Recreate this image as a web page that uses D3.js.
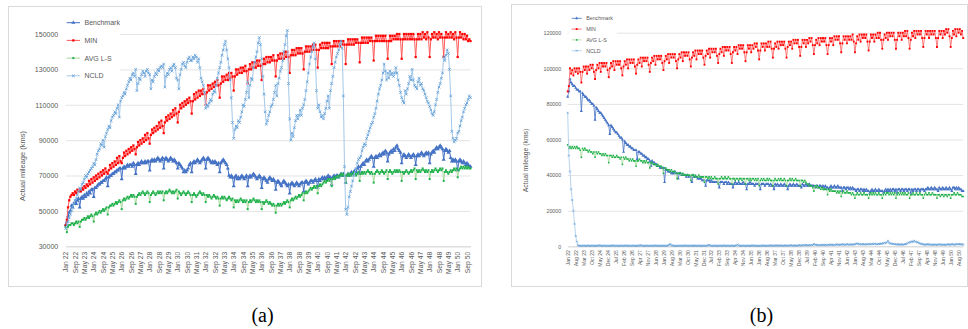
<!DOCTYPE html>
<html><head><meta charset="utf-8">
<script src="https://cdn.jsdelivr.net/npm/d3@7"></script>
<style>body{margin:0;background:#fff}svg{display:block}</style>
</head><body>
<svg id="c" width="968" height="329"></svg>
<script>
// ---------- categories & tick labels ----------
const monthNames = ["Jan","Feb","Mar","Apr","May","Jun","Jul","Aug","Sep","Oct","Nov","Dec"];
const years = ["22","23","24","25","26","27","28","29","30","31","32","33","34","35","36","37","38","39","40","41","42","43","44","45","46","47","48","49","50"];
const categories = years.flatMap(y => monthNames.map(m => m + " " + y));
const ticksA = ["Jan 22","Sep 22","May 23","Jan 24","Sep 24","May 25","Jan 26","Sep 26","May 27","Jan 28","Sep 28","May 29","Jan 30","Sep 30","May 31","Jan 32","Sep 32","May 33","Jan 34","Sep 34","May 35","Jan 36","Sep 36","May 37","Jan 38","Sep 38","May 39","Jan 40","Sep 40","May 41","Jan 42","Sep 42","May 43","Jan 44","Sep 44","May 45","Jan 46","Sep 46","May 47","Jan 48","Sep 48","May 49","Jan 50","Sep 50"];
const ticksB = ["Jan 22","Aug 22","Mar 23","Oct 23","May 24","Dec 24","Jul 25","Feb 26","Sep 26","Apr 27","Nov 27","Jun 28","Jan 29","Aug 29","Mar 30","Oct 30","May 31","Dec 31","Jul 32","Feb 33","Sep 33","Apr 34","Nov 34","Jun 35","Jan 36","Aug 36","Mar 37","Oct 37","May 38","Dec 38","Jul 39","Feb 40","Sep 40","Apr 41","Nov 41","Jun 42","Jan 43","Aug 43","Mar 44","Oct 44","May 45","Dec 45","Jul 46","Feb 47","Sep 47","Apr 48","Nov 48","Jun 49","Jan 50","Aug 50"];
const yTicksA = [30000,50000,70000,90000,110000,130000,150000];
const yTicksB = [0,20000,40000,60000,80000,100000,120000];
const seriesNames = ["Benchmark","MIN","AVG L-S","NCLD"];
const captions = ["(a)","(b)"];
const yTitle = "Actual mileage (kms)";

// ---------- values, thousands of kms, one row per year (Jan..Dec) ----------
const benchmarkA = [
42,44,47,49,50,53,52,54,55,54,56,57,
52,57,58,57,59,58,60,59,61,60,62,62,
58,63,63,64,65,65,66,66,67,67,68,69,
64,69,70,70,71,71,72,72,73,73,74,74,
68,74,75,74,75,76,75,76,76,75,77,76,
71,76,77,76,77,78,77,77,78,77,78,78,
73,78,79,78,79,78,79,80,79,78,79,80,
74,79,80,79,78,79,80,79,78,79,78,77,
74,77,76,75,74,72,73,72,73,74,76,77,
72,77,78,77,78,79,78,77,78,79,80,79,
74,79,80,79,78,77,78,77,78,77,76,77,
72,77,78,79,78,77,76,74,70,69,70,69,
64,69,70,68,69,68,69,70,69,68,69,70,
64,69,70,69,70,71,70,69,68,69,70,69,
63,68,69,68,67,66,68,69,68,67,68,67,
62,66,67,66,65,64,66,67,66,65,64,65,
60,65,66,65,64,65,66,65,64,65,66,66,
61,66,67,66,65,66,67,67,66,67,68,67,
63,68,67,68,69,68,69,68,69,70,69,69,
65,69,70,69,70,70,69,70,71,70,71,70,
66,70,71,70,71,72,71,72,73,72,74,75,
71,75,76,77,76,78,79,78,79,80,81,80,
75,80,81,80,81,82,81,82,83,82,84,83,
78,82,83,84,83,85,84,86,87,85,84,83,
77,81,82,81,80,81,82,81,80,81,82,81,
76,81,82,81,82,83,82,81,82,83,82,83,
77,82,83,84,83,85,86,85,86,87,86,85,
79,84,85,84,83,84,80,78,79,78,79,78,
73,78,79,78,77,78,77,76,77,76,75,75];
const minA = [
42,45,52,56,58,59,60,59,61,60,62,61,
62,61,63,62,64,63,65,64,67,65,68,66,
69,67,70,68,71,69,72,70,73,71,74,72,
71,73,76,74,77,75,78,76,80,77,81,78,
77,80,83,81,84,82,85,83,86,84,87,85,
82,86,89,87,90,88,91,89,93,90,94,91,
88,93,96,94,97,95,98,96,100,97,101,98,
94,100,103,101,104,102,105,103,107,104,108,105,
100,106,110,108,111,109,112,110,113,111,114,112,
105,112,116,113,117,114,118,115,118,116,119,116,
110,117,121,118,121,119,122,120,123,121,124,121,
114,122,126,123,126,124,127,124,128,125,128,126,
118,126,130,127,130,128,131,128,131,129,132,129,
122,130,133,130,134,131,134,131,135,132,135,132,
124,133,136,133,137,134,137,134,137,135,138,135,
126,135,138,136,139,136,139,136,140,137,140,137,
128,138,141,138,141,138,142,139,142,139,142,139,
130,140,143,140,143,140,143,141,144,141,144,141,
131,141,144,142,145,142,145,142,145,142,145,143,
133,143,146,143,146,143,146,143,146,144,146,144,
133,144,147,144,147,144,147,144,147,145,147,145,
134,145,148,145,148,145,148,145,148,146,148,146,
135,146,149,146,149,146,149,146,149,146,149,146,
136,146,149,146,149,147,149,147,150,147,150,147,
136,147,150,147,150,147,150,147,150,147,150,147,
137,147,150,147,150,147,151,148,150,147,151,148,
137,147,150,148,151,148,150,147,151,148,150,148,
137,148,151,148,150,148,151,148,150,147,151,148,
137,148,151,148,150,147,150,147,149,146,147,146];
const avgA = [
41,38,41,42,42,43,43,42,43,44,43,44,
41,44,45,45,46,45,46,47,46,47,48,47,
44,48,49,48,49,50,49,50,51,50,51,52,
48,52,53,53,54,53,54,55,54,55,56,55,
51,56,57,56,57,58,57,58,59,58,59,58,
54,58,59,60,59,60,61,60,59,60,61,60,
55,59,60,61,60,59,60,61,60,61,60,61,
56,60,61,60,61,62,61,60,61,60,61,62,
57,61,60,59,60,61,60,59,60,61,60,59,
55,59,60,59,58,59,60,61,60,59,60,59,
55,59,58,59,58,57,58,59,58,57,58,57,
53,57,58,57,58,57,56,57,58,57,56,57,
52,56,55,56,55,56,57,56,55,56,55,56,
51,55,56,55,56,57,56,55,56,55,56,55,
51,55,54,55,56,55,54,55,54,53,54,53,
49,53,54,53,54,53,54,55,54,55,56,55,
52,56,57,56,57,58,57,58,59,58,59,60,
56,60,61,60,61,62,63,62,63,64,63,64,
60,64,65,64,65,66,67,66,67,68,67,68,
64,68,69,68,69,70,69,70,71,70,71,70,
66,70,71,70,71,70,71,72,71,70,71,72,
67,71,72,71,72,71,72,73,72,71,72,71,
66,71,72,73,72,71,72,73,72,71,72,73,
68,72,73,72,71,72,73,72,73,72,73,72,
67,72,71,72,73,72,71,72,73,72,73,74,
68,73,72,73,72,73,74,73,72,73,72,73,
68,72,73,72,73,74,73,72,73,74,73,74,
67,72,73,72,71,72,73,72,73,74,73,74,
69,73,74,75,74,75,74,75,74,75,74,74];
const ncldA = [
40,42,44,46,48,50,52,54,56,57,59,61,
63,62,65,66,68,70,69,71,72,73,74,75,
77,76,79,82,84,85,88,87,90,86,92,94,
96,98,97,101,103,104,106,105,108,110,103,112,
114,115,117,116,119,121,123,125,124,127,128,126,
130,118,122,125,124,127,129,128,126,129,130,128,
127,119,124,123,126,128,127,130,129,131,132,131,
133,120,126,128,127,130,131,129,132,133,131,125,
124,119,127,130,133,134,132,131,134,136,137,135,
135,137,136,138,137,134,136,131,125,123,121,117,
108,110,109,111,113,112,116,118,117,121,125,128,
131,134,138,141,144,146,141,136,131,124,114,100,
91,96,98,97,101,100,103,106,110,109,113,117,
123,114,121,125,124,131,134,137,140,145,148,144,
136,126,116,106,99,101,104,106,109,110,113,117,
121,115,122,125,129,131,135,140,144,149,152,122,
102,90,94,92,97,101,104,102,104,107,104,108,
110,113,118,123,128,133,137,140,143,145,136,118,
108,110,106,103,104,102,105,108,112,115,108,118,
122,126,131,134,137,139,141,144,146,142,115,75,
51,48,52,58,61,64,67,70,72,74,77,79,
80,81,84,86,88,87,91,93,95,97,99,100,
103,105,108,112,116,119,121,124,128,133,129,124,
128,125,129,127,128,126,128,131,128,124,121,117,
114,112,111,118,116,119,122,126,124,130,124,121,
120,119,123,125,121,122,119,118,116,114,112,111,
109,107,105,104,106,110,113,117,120,122,125,128,
137,135,138,141,139,130,115,95,91,89,90,91,
94,95,98,101,103,106,108,110,111,113,115,114];

const benchmarkB = [
84,87,94,92,91,90,90,89,88,88,87,87,
76,86,85,84,84,83,82,82,81,80,80,79,
71,78,77,76,75,75,74,73,72,71,70,69,
68,63,68,67,66,65,64,64,63,62,61,61,
60,53,59,58,57,57,56,56,55,55,54,54,
54,49,53,53,52,52,51,51,50,50,49,49,
48,45,48,47,47,46,46,45,45,44,44,44,
44,36,43,43,42,42,42,41,41,41,42,41,
41,38,41,41,40,40,40,40,39,40,39,39,
39,36,40,39,39,39,38,38,38,38,37,37,
37,34,37,37,37,36,37,36,36,36,36,36,
36,33,36,36,36,35,36,36,35,36,35,35,
35,33,35,36,35,35,36,35,35,35,36,35,
35,32,35,35,36,35,35,35,34,35,35,35,
35,32,35,35,35,34,35,35,35,34,35,34,
34,32,35,34,35,34,34,35,34,34,35,34,
34,32,34,35,34,34,35,34,34,35,34,34,
34,33,35,34,34,35,34,34,35,34,34,34,
34,33,34,34,33,34,34,33,34,33,34,33,
33,32,33,34,33,33,34,33,33,34,33,33,
33,31,33,33,32,33,33,32,33,32,33,32,
32,31,32,32,31,32,32,31,32,31,32,31,
31,30,31,32,31,31,32,31,31,32,31,31,
31,30,31,32,31,32,31,32,31,32,32,31,
32,30,32,32,31,32,32,31,32,32,31,32,
32,30,32,31,32,32,31,32,32,31,32,32,
32,31,32,32,33,32,32,33,32,32,33,32,
32,31,33,32,32,33,32,32,33,32,32,33,
32,31,33,33,32,33,32,33,32,32,31,31];
const minB = [
87,90,100,97,99,96,100,98,100,97,100,98,
92,98,101,99,101,97,101,99,102,100,102,98,
94,99,102,100,103,98,103,101,103,101,103,99,
95,100,103,101,104,99,104,102,104,102,104,100,
96,101,104,102,105,100,105,103,105,103,105,101,
97,102,105,103,106,101,106,104,106,104,106,102,
98,103,106,104,107,102,107,105,107,105,107,103,
99,104,107,105,108,103,108,106,108,106,108,104,
100,105,108,106,109,104,109,107,109,107,109,105,
101,106,109,107,110,105,110,108,110,108,110,106,
102,107,110,108,111,106,111,109,111,109,111,107,
103,108,111,109,112,107,112,110,112,110,112,108,
103,109,112,110,112,108,113,111,113,111,113,109,
104,109,113,111,113,109,113,111,114,112,114,110,
105,110,114,112,114,110,114,112,115,112,115,111,
106,111,114,112,115,111,115,113,115,113,115,111,
106,112,115,113,115,111,116,114,116,114,116,112,
107,112,116,114,116,112,116,114,117,115,117,113,
108,113,116,114,117,113,117,115,117,115,117,113,
108,113,117,115,117,113,118,116,118,116,118,114,
109,114,118,116,118,114,118,116,118,116,119,115,
109,114,118,116,119,115,119,117,119,117,119,115,
110,115,119,117,119,115,119,117,120,117,120,116,
111,116,119,117,120,116,120,118,120,118,120,116,
111,116,120,118,120,116,120,118,121,118,121,117,
111,116,120,118,121,117,121,119,121,119,121,117,
112,117,121,119,121,117,121,119,121,119,121,117,
112,117,121,119,121,117,121,119,122,120,122,118,
112,117,121,119,122,118,122,120,122,119,121,117];
const avgB = [
57,55,56,55,56,55,56,55,56,55,55,54,
50,55,54,55,54,54,53,54,53,53,52,53,
50,53,52,53,52,52,51,52,51,52,51,51,
47,51,51,50,51,50,50,51,50,50,49,50,
46,50,49,50,49,49,48,49,48,49,48,48,
45,48,48,49,48,48,47,48,47,48,47,47,
44,47,47,46,46,46,45,46,45,45,45,44,
41,44,44,43,43,43,42,43,42,42,42,41,
38,41,41,41,40,41,40,40,40,40,40,40,
37,40,40,39,40,39,39,40,39,39,39,39,
36,39,39,38,39,38,39,38,38,39,38,38,
35,38,38,39,38,38,39,38,38,39,38,38,
35,38,38,37,38,38,37,38,38,37,38,38,
35,38,38,37,38,37,38,38,37,38,37,38,
34,37,38,37,38,37,37,38,37,38,37,37,
34,37,38,37,37,38,37,38,37,37,38,37,
34,37,37,38,37,38,37,37,38,37,37,37,
34,37,37,36,37,36,35,35,34,34,34,33,
31,34,33,34,33,33,32,33,32,32,32,32,
29,32,31,32,31,31,31,31,30,31,30,31,
28,30,31,30,30,31,30,30,30,29,30,29,
27,29,30,29,29,30,29,29,30,29,29,29,
27,29,30,29,30,29,30,29,29,30,29,29,
27,29,30,29,30,30,29,30,29,30,29,30,
27,29,30,29,30,29,30,29,30,29,29,30,
27,29,29,30,29,29,30,29,29,30,29,29,
27,29,30,29,29,30,29,29,30,29,29,29,
27,29,29,28,29,29,28,29,29,28,29,29,
27,29,29,30,29,29,30,29,29,29,28,28];
const ncldB = [
75,51,42,32,26,20,12.6,5.8,2.6,0.6,0.3,0.3,
0.3,0.2,0.4,0.3,0.2,0.3,0.5,0.3,0.2,0.3,0.4,0.3,
0.2,0.3,0.4,0.3,0.6,0.3,0.2,0.3,0.4,0.3,0.2,0.3,
0.3,0.2,0.4,0.3,0.5,0.3,0.2,0.4,0.3,0.2,0.3,0.4,
0.3,0.2,0.3,0.5,0.3,0.2,0.4,0.3,0.2,0.3,0.4,0.3,
0.2,0.3,0.4,0.3,0.6,0.4,0.3,0.2,0.3,0.4,0.3,0.2,
0.3,0.4,0.3,0.2,0.3,0.5,0.3,0.2,0.4,0.3,0.2,0.3,
0.4,0.3,0.2,0.3,0.5,0.8,1.2,0.6,0.4,0.3,0.2,0.3,
0.3,0.2,0.4,0.3,0.2,0.3,0.5,0.3,0.4,0.3,0.2,0.3,
0.4,0.3,0.2,0.5,0.3,0.2,0.3,0.4,0.3,0.2,0.3,0.4,
0.3,0.2,0.3,0.6,0.8,0.5,0.3,0.2,0.3,0.4,0.3,0.2,
0.3,0.4,0.3,0.2,0.3,0.5,0.3,0.2,0.4,0.3,0.2,0.3,
0.4,0.3,0.2,0.3,0.6,0.9,0.5,0.3,0.2,0.3,0.4,0.3,
0.2,0.3,0.4,0.3,0.2,0.3,0.5,0.3,0.4,0.3,0.2,0.3,
0.3,0.2,0.4,0.3,0.5,0.3,0.2,0.3,0.4,0.3,0.5,0.4,
0.3,0.4,0.3,0.5,0.4,0.3,0.4,0.5,0.3,0.4,0.3,0.5,
0.4,0.3,0.5,0.4,0.6,0.4,0.3,0.5,0.4,0.3,0.5,0.6,
0.5,0.4,0.6,0.8,0.5,0.7,0.6,0.5,0.7,0.6,0.8,0.6,
1.3,1.0,0.8,0.7,0.6,0.8,0.7,0.6,0.9,0.7,0.8,0.6,
0.7,0.9,0.8,1.0,0.8,0.7,0.9,0.8,1.1,0.9,0.8,1.0,
0.9,1.1,1.0,0.8,1.0,1.2,1.0,0.9,1.1,1.0,0.9,1.2,
1.0,1.4,1.6,1.3,1.1,1.2,1.0,1.3,1.1,1.0,1.2,1.1,
1.3,1.2,1.1,1.4,1.2,1.5,1.3,1.1,1.2,1.4,1.3,1.6,
1.4,1.7,2.0,1.8,2.2,3.1,2.0,1.6,1.5,1.3,1.4,1.2,
1.1,1.0,1.2,0.9,1.0,1.1,0.9,1.0,1.2,1.3,1.6,2.0,
2.4,2.2,2.8,2.5,3.1,2.7,2.4,2.2,1.9,1.6,1.4,1.2,
1.1,1.0,0.9,1.1,1.2,1.0,0.9,1.0,0.8,0.9,1.0,0.9,
0.8,0.9,1.1,1.0,0.8,0.9,1.0,0.8,0.9,1.0,1.1,0.9,
1.0,1.2,1.1,0.9,1.0,1.2,1.1,1.3,1.2,1.0,1.1,1.0];

// ---------- drawing ----------
const FONT = "'Liberation Sans', Arial, sans-serif";
const svg = d3.select("#c");

const xShape = { draw(ctx, size){ const r = Math.sqrt(size)/2; ctx.moveTo(-r,-r); ctx.lineTo(r,r); ctx.moveTo(-r,r); ctx.lineTo(r,-r); } };
const styles = [
  {line:"#4472C4", mark:"#4472C4", shape:d3.symbolTriangle, fill:true},
  {line:"#FF5A5A", mark:"#FF0000", shape:d3.symbolSquare, fill:true},
  {line:"#A6D99A", mark:"#1DB04A", shape:d3.symbolSquare, fill:true},
  {line:"#A4C8E9", mark:"#5B9BD5", shape:xShape, fill:false}
];

function panel(o){
  const g = svg.append("g");
  const x = d3.scalePoint().domain(categories).range([o.x0, o.x1]);
  const y = d3.scaleLinear().domain(o.yDomain).range([o.yb, o.yt]);

  g.append("rect").attr("x",o.bx).attr("y",o.by).attr("width",o.bw).attr("height",o.bh)
    .attr("fill","#fff").attr("stroke","#D9D9D9").attr("stroke-width",1);

  const ya = g.append("g").attr("transform",`translate(${o.x0},0)`)
    .call(d3.axisLeft(y).tickValues(o.yTicks).tickSize(-(o.x1-o.x0)).tickPadding(o.yPad).tickFormat(d3.format("d")));
  ya.attr("font-family",FONT).attr("font-size",o.fs);
  ya.select(".domain").remove();
  ya.selectAll("line").attr("stroke","#E4E4E4");
  ya.selectAll("text").attr("fill","#595959");

  const xa = g.append("g").attr("transform",`translate(0,${o.yb})`)
    .call(d3.axisBottom(x).tickValues(o.xTicks).tickSize(0));
  xa.attr("font-family",FONT).attr("font-size",o.fsx);
  xa.select(".domain").attr("stroke","#D9D9D9");
  xa.selectAll("text").attr("fill","#595959").attr("transform","rotate(-90)")
    .attr("x",-o.xPad).attr("y",0).attr("dy","0.33em").style("text-anchor","end");

  g.append("text").attr("transform",`translate(${o.tx},${o.ty}) rotate(-90)`)
    .attr("text-anchor","middle").attr("dominant-baseline","central")
    .attr("font-family",FONT).attr("font-size",o.tfs).attr("fill","#595959").text(yTitle);

  const line = d3.line().x((d,i)=>x(categories[i])).y(d=>y(d*1000));
  o.data.forEach((arr,k)=>{
    const st = styles[k];
    g.append("path").datum(arr).attr("d",line).attr("fill","none")
      .attr("stroke",st.line).attr("stroke-width",o.lw).attr("stroke-linejoin","round");
    g.append("g").selectAll("path").data(arr).join("path")
      .attr("transform",(d,i)=>`translate(${x(categories[i])},${y(d*1000)})`)
      .attr("d",d3.symbol(st.shape, o.ms[k]))
      .attr("fill",st.fill?st.mark:"none").attr("stroke",st.fill?"none":st.mark)
      .attr("stroke-width",o.xw);
  });

  // legend
  const lg = g.append("g");
  lg.append("rect").attr("x",o.lgx-3).attr("y",o.lgy-o.lgs*0.6).attr("width",o.lgw)
    .attr("height",o.lgs*3+o.lgs*1.2).attr("fill","#fff");
  seriesNames.forEach((n,k)=>{
    const st = styles[k], yy = o.lgy + k*o.lgs;
    lg.append("line").attr("x1",o.lgx).attr("x2",o.lgx+o.lgl).attr("y1",yy).attr("y2",yy)
      .attr("stroke",st.line).attr("stroke-width",o.lw);
    lg.append("path").attr("transform",`translate(${o.lgx+o.lgl/2},${yy})`)
      .attr("d",d3.symbol(st.shape,o.ms[k]))
      .attr("fill",st.fill?st.mark:"none").attr("stroke",st.fill?"none":st.mark).attr("stroke-width",o.xw);
    lg.append("text").attr("x",o.lgx+o.lgl+4.5).attr("y",yy).attr("dominant-baseline","central")
      .attr("font-family",FONT).attr("font-size",o.fs).attr("fill","#595959").text(n);
  });

  svg.append("text").attr("x",o.cx).attr("y",322).attr("text-anchor","middle")
    .attr("font-family","'Liberation Serif', 'Times New Roman', serif").attr("font-size",20)
    .attr("fill","#000").text(o.caption);
}

panel({
  bx:8.5, by:6.5, bw:473, bh:280,
  x0:65.7, x1:470.5, yb:246.3, yt:34, yDomain:[30000,150000], yTicks:yTicksA, xTicks:ticksA,
  fs:7, fsx:6.8, yPad:7.5, xPad:5.4, tx:22.7, ty:166, tfs:7.5,
  data:[benchmarkA,minA,avgA,ncldA], lw:1, ms:[7,5,4,7], xw:0.8,
  lgx:66.7, lgy:22.7, lgs:17.7, lgl:13.3, lgw:56,
  cx:262.5, caption:captions[0]
});
panel({
  bx:511.5, by:4.5, bw:456, bh:282,
  x0:567.7, x1:963.2, yb:246.3, yt:32.7, yDomain:[0,120000], yTicks:yTicksB, xTicks:ticksB,
  fs:5.3, fsx:5.1, yPad:6.5, xPad:3.8, tx:525, ty:160.5, tfs:6.8,
  data:[benchmarkB,minB,avgB,ncldB], lw:0.8, ms:[4,3.5,2.5,4], xw:0.6,
  lgx:571.7, lgy:18.3, lgs:10.8, lgl:10, lgw:48,
  cx:761.5, caption:captions[1]
});
</script>
</body></html>
